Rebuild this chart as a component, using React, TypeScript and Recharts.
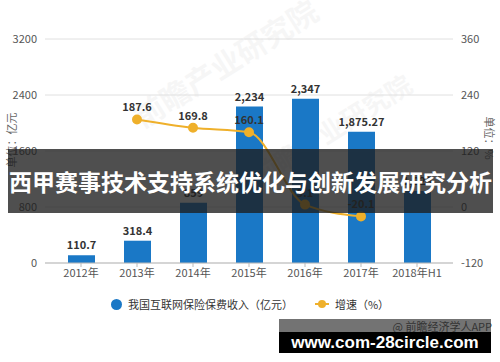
import { ComposedChart, Bar, Line, XAxis, YAxis, CartesianGrid, LabelList } from "recharts";

const years = ["2012年", "2013年", "2014年", "2015年", "2016年", "2017年", "2018年H1"];
const premium = [110.7, 318.4, 859, 2234, 2347, 1875.27, 1029];
const growth = [null, 187.6, 169.8, 160.1, 5.1, -20.1, null];

const leftTicks = [0, 800, 1600, 2400, 3200];
const rightTicks = [-120, 0, 120, 240, 360];

const BLUE = "#1a78c6";
const ORANGE = "#efb02b";
const FONT = "'Noto Sans CJK SC', 'Noto Sans', sans-serif";

const data = years.map((y, i) => ({ year: y, premium: premium[i], growth: growth[i] }));

const fmt = (v: any) =>
    v == null ? "" : Number(v).toLocaleString("en-US", { maximumFractionDigits: 2 });

export default function App() {
    return (
        <div style={{ position: "absolute", left: 0, top: 0, width: 500, height: 362, background: "#fff", fontFamily: FONT, overflow: "hidden" }}>
            {/* watermark */}
            <div style={{ position: "absolute", left: 120, top: 40, fontSize: 30, fontWeight: 700, color: "#000", opacity: 0.03, transform: "rotate(-32deg)", whiteSpace: "nowrap" }}>
                前瞻产业研究院
            </div>
            <div style={{ position: "absolute", left: 240, top: 110, fontSize: 26, fontWeight: 700, color: "#000", opacity: 0.03, transform: "rotate(-32deg)", whiteSpace: "nowrap" }}>
                前瞻产业研究院
            </div>

            <ComposedChart width={500} height={362} data={data} margin={{ top: 39, right: 0, left: 0, bottom: 69 }}>
                <CartesianGrid vertical={false} stroke="#e0e0e0" yAxisId="left" />
                <XAxis
                    dataKey="year"
                    height={30}
                    padding={{ left: 8, right: 8 }}
                    tick={{ fontSize: 11, fill: "#555", fontFamily: FONT }}
                    axisLine={{ stroke: "#bbb" }}
                    tickLine={{ stroke: "#bbb" }}
                    tickSize={4}
                />
                <YAxis
                    yAxisId="left"
                    width={45}
                    domain={[0, 3200]}
                    ticks={leftTicks}
                    axisLine={false}
                    tickLine={false}
                    tick={{ fontSize: 11, fill: "#555", fontFamily: FONT }}
                />
                <YAxis
                    yAxisId="right"
                    orientation="right"
                    width={47}
                    domain={[-120, 360]}
                    ticks={rightTicks}
                    axisLine={false}
                    tickLine={false}
                    tick={{ fontSize: 11, fill: "#555", fontFamily: FONT, textAnchor: "start" }}
                />
                <Bar yAxisId="left" dataKey="premium" fill={BLUE} barSize={27} isAnimationActive={false}>
                    <LabelList dataKey="premium" position="top" offset={6} formatter={fmt}
                        style={{ fontSize: 11, fontWeight: 700, fill: "#333", fontFamily: FONT }} />
                </Bar>
                <Line
                    yAxisId="right"
                    dataKey="growth"
                    type="monotone"
                    stroke={ORANGE}
                    strokeWidth={2}
                    dot={{ r: 4, fill: ORANGE, stroke: ORANGE }}
                    connectNulls={false}
                    isAnimationActive={false}
                >
                    <LabelList dataKey="growth" position="top" offset={8} formatter={fmt}
                        style={{ fontSize: 11, fontWeight: 700, fill: "#333", fontFamily: FONT }} />
                </Line>
            </ComposedChart>

            {/* axis unit labels */}
            <div style={{ position: "absolute", left: 11, top: 140, fontSize: 11, color: "#666", transform: "translate(-50%, -50%) rotate(-90deg)", whiteSpace: "nowrap" }}>
                单位：亿元
            </div>
            <div style={{ position: "absolute", left: 490, top: 138, fontSize: 11, color: "#666", transform: "translate(-50%, -50%) rotate(90deg)", whiteSpace: "nowrap" }}>
                单位：%
            </div>

            {/* legend */}
            <div style={{ position: "absolute", left: 0, top: 296, width: 500, display: "flex", justifyContent: "center", alignItems: "center", fontSize: 11, color: "#333" }}>
                <span style={{ display: "inline-block", width: 11, height: 11, borderRadius: "50%", background: BLUE, marginRight: 6 }} />
                <span>我国互联网保险保费收入（亿元）</span>
                <span style={{ display: "inline-block", position: "relative", width: 14, height: 2, background: ORANGE, marginLeft: 22, marginRight: 6 }}>
                    <span style={{ position: "absolute", left: 3, top: -3, width: 8, height: 8, borderRadius: "50%", background: ORANGE }} />
                </span>
                <span>增速（%）</span>
            </div>

            {/* source */}
            <div style={{ position: "absolute", left: 279, top: 319, width: 212, height: 13, background: "rgba(0,0,0,0.55)" }} />
            <div style={{ position: "absolute", right: 8, top: 318, fontSize: 11, color: "#333", whiteSpace: "nowrap" }}>
                @ 前瞻经济学人APP
            </div>
            <div style={{ position: "absolute", left: 279, top: 332, width: 212, height: 21, background: "#000", color: "#fff", fontSize: 17, fontWeight: 700, lineHeight: "21px", textAlign: "center", whiteSpace: "nowrap", fontFamily: "'Liberation Sans', sans-serif" }}>
                www.com-28circle.com
            </div>

            {/* title banner */}
            <div style={{ position: "absolute", left: 8, top: 149, width: 485, height: 64, background: "rgba(30,30,30,0.78)", color: "#fff", fontSize: 23, fontWeight: 700, lineHeight: "64px", textAlign: "center", whiteSpace: "nowrap" }}>
                西甲赛事技术支持系统优化与创新发展研究分析
            </div>
        </div>
    );
}
